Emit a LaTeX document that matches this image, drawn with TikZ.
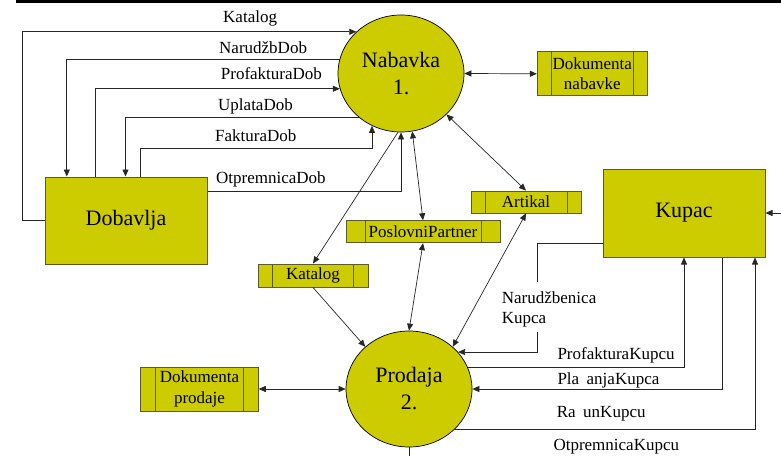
\documentclass[tikz,border=0pt]{standalone}
\usepackage{fontspec}
\setmainfont{LiberationSerif}[Extension=.ttf,UprightFont=*-Regular,BoldFont=*-Bold]
\newfontfamily\dfdfont{LiberationSerif}[Extension=.ttf,UprightFont=*-Regular]
\usetikzlibrary{shapes.geometric,arrows.meta}
\definecolor{procfill}{RGB}{204,204,0}
\definecolor{edgeolive}{RGB}{90,90,45}
\begin{document}
\begin{tikzpicture}[x=1pt,y=-1pt,
  >={Triangle[length=7pt,width=6pt]},
  procnode/.style={ellipse,draw=black,line width=0.7pt,fill=procfill,inner sep=0pt,
    align=center,font=\dfdfont\fontsize{22}{27}\selectfont},
  extnode/.style={rectangle,draw=edgeolive,line width=1pt,fill=procfill,inner sep=0pt,
    font=\dfdfont\fontsize{22}{27}\selectfont},
  storebox/.style={rectangle,draw=edgeolive,line width=0.9pt,fill=procfill,inner sep=0pt,
    align=center,font=\dfdfont\fontsize{17}{20.5}\selectfont,
    path picture={\draw[edgeolive,line width=0.9pt]
      ([xshift=#1]path picture bounding box.north west) -- ([xshift=#1]path picture bounding box.south west)
      ([xshift=-#1]path picture bounding box.north east) -- ([xshift=-#1]path picture bounding box.south east);}},
  storebox/.default=14pt,
  conn/.style={draw=black!85,line width=0.7pt},
  lbl/.style={font=\dfdfont\fontsize{17}{20}\selectfont,inner sep=0pt,anchor=base west}]

\useasboundingbox (0,0) rectangle (781,455);

% heavy rule along the top edge
\draw[line width=2.5pt] (16,1.25) -- (781,1.25);

% processes
\node[procnode,minimum width=126pt,minimum height=117pt] (nab) at (401,73.5) {Nabavka\\1.};
\node[procnode,minimum width=126pt,minimum height=116pt] (pro) at (409,389) {Prodaja\\2.};

% external entities
\node[extnode,minimum width=162pt,minimum height=87pt] (dob) at (126,220.5) {Dobavlja};
\node[extnode,minimum width=162pt,minimum height=88pt] (kup) at (684,213) {Kupac};

% data stores
\node[storebox,minimum width=110pt,minimum height=44pt] (dokn) at (592.3,73.8) {Dokumenta\\nabavke};
\node[storebox=14.6pt,minimum width=117.6pt,minimum height=44pt] (dokp) at (199.5,389) {Dokumenta\\prodaje};
\node[storebox=14.5pt,minimum width=110pt,minimum height=23pt] (kat) at (313,275.5) {Katalog};
\node[storebox=19pt,minimum width=154pt,minimum height=22pt] (pp) at (423,231.7) {PoslovniPartner};
\node[storebox,minimum width=110pt,minimum height=22pt] (art) at (526,202) {Artikal};

% flows between Dobavlja and Nabavka
\draw[conn,->] (dob.west) -- ++(-22,0) |- (nab.137);
\draw[conn,->] (nab.167) -| ([xshift=22.3pt]dob.north west);
\draw[conn,->] ([xshift=51.3pt]dob.north west) |- (nab.194);
\draw[conn,->] (nab.226) -| ([xshift=81pt]dob.north west);
\draw[conn,->] ([xshift=95.7pt]dob.north west) -- ++(0,-27.7) -| (nab.241);
\draw[conn,->] ([yshift=28.8pt]dob.east) -| (nab.south);

\node[lbl] (lkat) at (223,22) {Katalog};
\node[lbl] (lnar) at (219,53) {NarudžbDob};
\node[lbl] (lprof) at (220.7,79.7) {ProfakturaDob};
\node[lbl] (lupl) at (218,110.3) {UplataDob};
\node[lbl] (lfak) at (215,141.3) {FakturaDob};
\node[lbl] (lotp) at (216,183) {OtpremnicaDob};

% flows through the data stores
\draw[conn,<->] (nab.east) -- (dokn.west);
\draw[conn,->] (nab.267) -- (kat.north);
\draw[conn,<->] (nab.281) -- (pp.north);
\draw[conn,<->] (nab.318) -- (art.north);
\draw[conn,->] (kat.south) -- (pro.136);
\draw[conn,<->] (pp.south) -- (pro.north);
\draw[conn,<->] (art.south) -- (pro.44);
\draw[conn,<->] (dokp.east) -- (pro.west);

% flows between Prodaja and Kupac
\coordinate (nkTop) at (537.3,281.7);
\coordinate (nkBot) at (537.3,331.7);
\draw[conn] ([yshift=-30.3pt]kup.west) -| (nkTop);
\draw[conn,->] (nkBot) |- (pro.37);
\node[font=\dfdfont\fontsize{17}{20.5}\selectfont,inner sep=0pt,anchor=north west,align=left]
  (lnk) at (501.7,291.3) {Narudžbenica\\Kupca};

\draw[conn,->] (pro.20) -| (kup.south);
\draw[conn,->] ([xshift=38.7pt]kup.south) |- (pro.east);
\draw[conn,->] (pro.318) -| ([xshift=71pt]kup.south);

\coordinate (kin) at (781,213);
\draw[conn,->] (kin) -- (kup.east);
\coordinate (pout) at (409,456);
\draw[conn] (pro.south) -- (pout);

\node[lbl] (lpk) at (557.3,359) {ProfakturaKupcu};
\node[lbl] (lpl) at (557.3,384.7) {Pla \hspace{3.2pt}anjaKupca};
\node[lbl] (lra) at (556.7,417) {Ra \hspace{3.2pt}unKupcu};
\node[lbl] (lok) at (553.3,450.7) {OtpremnicaKupcu};

\end{tikzpicture}
\end{document}
